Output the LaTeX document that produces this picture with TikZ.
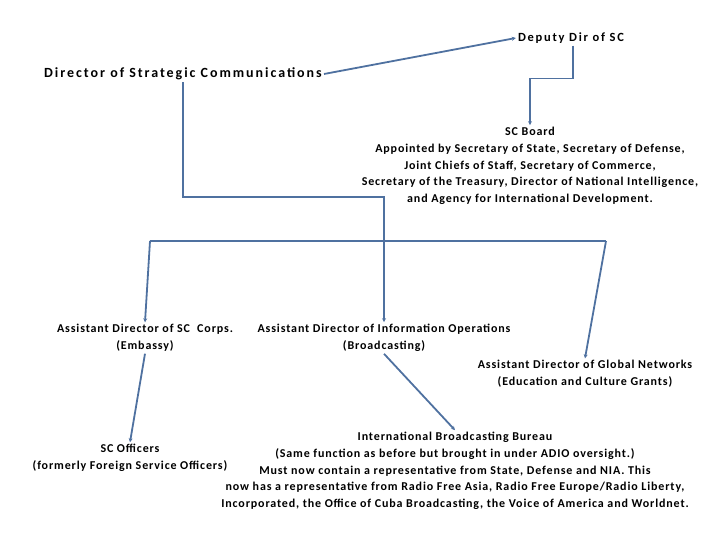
\documentclass[tikz,border=0pt]{standalone}
\usepackage{fontspec}
\setmainfont{Carlito}
\newfontfamily\titlefont[LetterSpace=14]{Carlito}
\newfontfamily\bodyfont[LetterSpace=7.2]{Carlito}
\usetikzlibrary{arrows.meta}
\definecolor{lnc}{RGB}{79,113,160}
\tikzset{
  lbl/.style={align=center, inner sep=2pt, font=\bodyfont\bfseries\fontsize{12}{16.7}\selectfont},
  big/.style={align=center, inner sep=2pt, font=\titlefont\bfseries\fontsize{14}{16}\selectfont},
  mid/.style={align=center, inner sep=2pt, font=\titlefont\bfseries\fontsize{12.5}{16}\selectfont},
  conn/.style={draw=lnc, line width=1.8pt},
  arr/.style={conn, -{Stealth[length=4pt,width=4pt]}}
}
\begin{document}
\begin{tikzpicture}[x=1pt,y=-1pt]
\useasboundingbox (0,0) rectangle (720,540);
\node[mid] (dep) at (571,38) {Deputy Dir of SC};
\node[big] (dir) at (183,74) {Director of Strategic Communications};
\node[lbl] (board) at (530,166) {SC Board\\Appointed by Secretary of State, Secretary of Defense,\\Joint Chiefs of Staff, Secretary of Commerce,\\Secretary of the Treasury, Director of National Intelligence,\\and Agency for International Development.};
\node[lbl] (corps) at (145,338) {Assistant Director of SC\ \ Corps.\\(Embassy)};
\node[lbl] (info) at (384,338) {Assistant Director of Information Operations\\(Broadcasting)};
\node[lbl] (glob) at (585,374) {Assistant Director of Global Networks\\(Education and Culture Grants)};
\node[lbl] (off) at (130,458) {SC Officers\\(formerly Foreign Service Officers)};
\node[lbl] (ibb) at (455,471) {International Broadcasting Bureau\\(Same function as before but brought in under ADIO oversight.)\\Must now contain a representative from State, Defense and NIA. This\\now has a representative from Radio Free Asia, Radio Free Europe/Radio Liberty,\\Incorporated, the Office of Cuba Broadcasting, the Voice of America and Worldnet.};
\coordinate (barL) at (150,241);
\coordinate (barR) at (606,241);
\draw[arr] (dir.east) -- (dep.west);
\draw[arr] ([xshift=2pt]dep.south) -- ++(0,33) -| (board.north);
\draw[arr] (dir.south) -- ++(0,115) -| (info.north);
\draw[conn] (barL) -- (barR);
\draw[arr] (barL) -- (corps.north);
\draw[arr] (barR) -- (glob.north);
\draw[arr] (corps.south) -- (off.north);
\draw[arr] (info.south) -- (ibb.north);
\end{tikzpicture}
\end{document}
